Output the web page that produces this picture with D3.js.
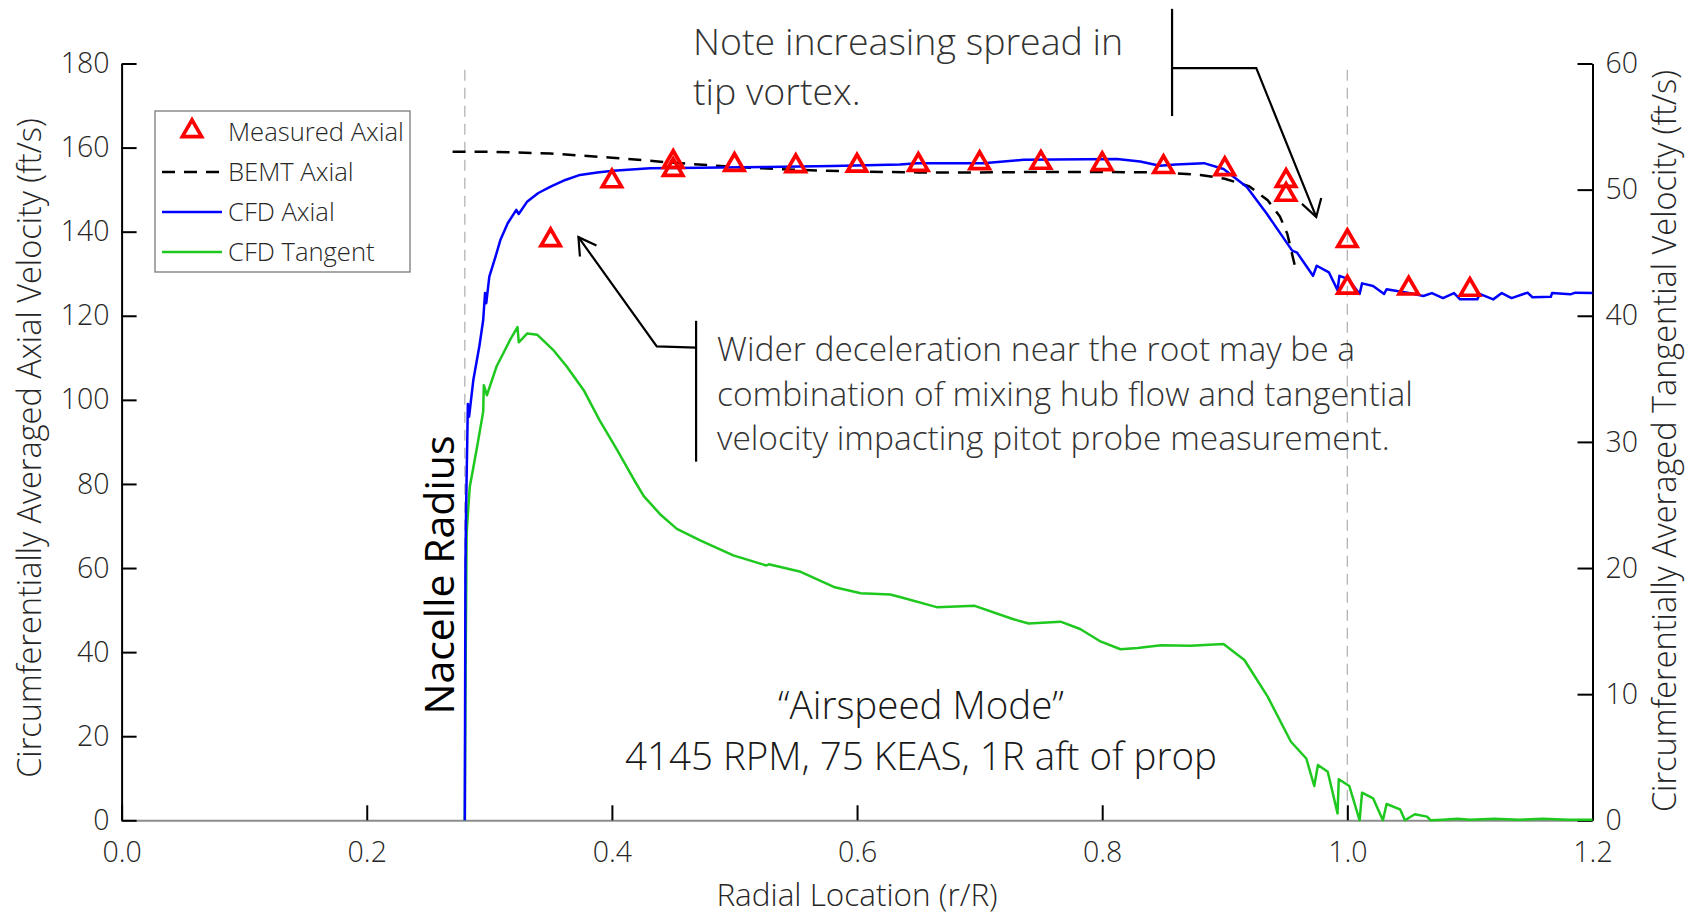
<!DOCTYPE html>
<html>
<head>
<meta charset="utf-8">
<script src="https://cdn.jsdelivr.net/npm/d3@7"></script>
<style>
  body { margin: 0; background: #fff; }
  text { font-family: "Open Sans", sans-serif; font-weight: 300; }
</style>
</head>
<body>
<div id="chart"></div>
<script>
// Measured axial velocity (pitot probe)
const measuredR = [0.35, 0.40, 0.45, 0.45, 0.50, 0.55, 0.60, 0.65, 0.70, 0.75, 0.80, 0.85, 0.90, 0.95, 0.95, 1.00, 1.00, 1.05, 1.10];
const measuredV = [138, 152, 156.6, 154.7, 155.9, 155.6, 155.7, 155.9, 156.3, 156.4, 156.1, 155.4, 154.9, 152.1, 148.8, 137.8, 126.7, 126.5, 126.2];

// BEMT axial prediction
const bemtR = [0.27, 0.30, 0.35, 0.40, 0.45, 0.50, 0.55, 0.60, 0.65, 0.70, 0.75, 0.80, 0.85, 0.88, 0.90, 0.92, 0.935, 0.945, 0.951, 0.957];
const bemtV = [159.0, 159.0, 158.6, 157.6, 156.4, 155.4, 154.7, 154.3, 154.1, 154.1, 154.2, 154.2, 154.1, 153.5, 152.6, 150.8, 147.5, 143.6, 139.5, 132.1];

// CFD axial (left axis)
const cfdAxialR = [0.28, 0.2805, 0.281, 0.2825, 0.2835, 0.287, 0.292, 0.295, 0.2965, 0.2975, 0.300, 0.305, 0.309, 0.315, 0.322, 0.324, 0.331, 0.340, 0.350, 0.362, 0.374, 0.388, 0.401, 0.431, 0.472, 0.526, 0.58, 0.635, 0.649, 0.703, 0.736, 0.812, 0.831, 0.847, 0.860, 0.883, 0.899, 0.918, 0.934, 0.955, 0.959, 0.972, 0.975, 0.985, 0.992, 0.9935, 1.001, 1.010, 1.012, 1.021, 1.030, 1.032, 1.049, 1.062, 1.069, 1.078, 1.087, 1.092, 1.106, 1.108, 1.119, 1.126, 1.134, 1.147, 1.151, 1.166, 1.167, 1.182, 1.186, 1.2];
const cfdAxialV = [0, 60, 73, 99, 96, 104.8, 113, 119, 125.4, 123, 129.3, 134, 138, 142, 145.2, 144.2, 147.2, 149.2, 150.7, 152.3, 153.5, 154.1, 154.5, 155.1, 155.2, 155.4, 155.6, 156.0, 156.3, 156.3, 157.1, 157.3, 156.7, 155.7, 156.0, 156.3, 154.9, 150.6, 144.4, 135.5, 135.0, 129.5, 131.9, 130.3, 126.1, 129.5, 128.7, 125.2, 127.7, 127.1, 125.2, 126.3, 125.5, 124.7, 125.4, 124.2, 125.4, 123.9, 123.9, 125.2, 123.9, 125.4, 124.2, 125.5, 124.4, 124.5, 125.4, 125.1, 125.5, 125.4];

// CFD tangential (right axis)
const cfdTanR = [0.28, 0.2805, 0.2815, 0.284, 0.290, 0.295, 0.2955, 0.298, 0.306, 0.317, 0.323, 0.324, 0.331, 0.339, 0.352, 0.363, 0.377, 0.390, 0.404, 0.418, 0.426, 0.440, 0.453, 0.472, 0.499, 0.526, 0.528, 0.554, 0.581, 0.603, 0.627, 0.635, 0.665, 0.696, 0.727, 0.74, 0.766, 0.782, 0.799, 0.815, 0.829, 0.848, 0.872, 0.899, 0.916, 0.935, 0.954, 0.9665, 0.973, 0.976, 0.984, 0.992, 0.993, 1.0016, 1.010, 1.012, 1.021, 1.029, 1.032, 1.043, 1.047, 1.055, 1.065, 1.068, 1.078, 1.09, 1.10, 1.12, 1.14, 1.16, 1.18, 1.2];
const cfdTanV = [0, 10, 22.8, 26.4, 29.6, 32.4, 34.5, 33.7, 36.0, 38.1, 39.1, 37.9, 38.6, 38.5, 37.3, 36.0, 34.1, 31.7, 29.4, 27.0, 25.7, 24.2, 23.1, 22.2, 21.0, 20.2, 20.3, 19.7, 18.5, 18.0, 17.9, 17.7, 16.9, 17.0, 15.96, 15.6, 15.75, 15.17, 14.16, 13.56, 13.66, 13.87, 13.84, 13.98, 12.71, 9.8, 6.23, 4.9, 2.72, 4.38, 3.85, 0.55, 3.25, 2.72, 0, 2.19, 1.74, 0, 1.29, 0.87, 0, 0.48, 0.29, 0, 0.05, 0.12, 0.05, 0.12, 0.05, 0.12, 0.05, 0.05];

// Ticks
const xTicks = [0.0, 0.2, 0.4, 0.6, 0.8, 1.0, 1.2];
const leftTicks = [0, 20, 40, 60, 80, 100, 120, 140, 160, 180];
const rightTicks = [0, 10, 20, 30, 40, 50, 60];

// Reference lines
const nacelleR = 0.28;
const tipR = 1.0;

const W = 1688, H = 914;
const margin = { top: 63.5, right: 95.5, bottom: 93.7, left: 121.6 };
const width = W - margin.left - margin.right;
const height = H - margin.top - margin.bottom;

const svg = d3.select("#chart").append("svg")
    .attr("width", W)
    .attr("height", H);

const g = svg.append("g")
    .attr("transform", `translate(${margin.left},${margin.top})`);

const x = d3.scaleLinear().domain([0, 1.2]).range([0, width]);
const yL = d3.scaleLinear().domain([0, 180]).range([height, 0]);
const yR = d3.scaleLinear().domain([0, 60]).range([height, 0]);

// Dashed reference lines
[nacelleR, tipR].forEach(r => {
    g.append("line")
        .attr("x1", x(r)).attr("x2", x(r))
        .attr("y1", yL(178.5)).attr("y2", height)
        .attr("stroke", "#b4b4b4")
        .attr("stroke-width", 1.3)
        .attr("stroke-dasharray", "11,7");
});

// Axes
const xAxis = g.append("g")
    .attr("transform", `translate(0,${height})`)
    .call(d3.axisBottom(x).tickValues(xTicks).tickFormat(d3.format(".1f"))
        .tickSizeInner(-15).tickSizeOuter(0).tickPadding(21));
xAxis.select(".domain").attr("stroke", "#8c8c8c").attr("stroke-width", 2);

const leftAxis = g.append("g")
    .call(d3.axisLeft(yL).tickValues(leftTicks)
        .tickSizeInner(-15).tickSizeOuter(0).tickPadding(12));

const rightAxis = g.append("g")
    .attr("transform", `translate(${width},0)`)
    .call(d3.axisRight(yR).tickValues(rightTicks)
        .tickSizeInner(-15).tickSizeOuter(0).tickPadding(13));

[leftAxis, rightAxis].forEach(a => a.select(".domain").attr("stroke", "#000").attr("stroke-width", 2));
[xAxis, leftAxis, rightAxis].forEach(a => {
    a.selectAll(".tick line").attr("stroke", "#000").attr("stroke-width", 2);
    a.selectAll("text")
        .style("font-size", "28.5px")
        .style("font-family", "'Open Sans', sans-serif")
        .style("font-weight", 300)
        .attr("fill", "#262626");
});

// Axis titles
g.append("text")
    .attr("transform", `translate(${28 - margin.left},${448 - margin.top}) rotate(-90)`)
    .attr("text-anchor", "middle")
    .attr("dominant-baseline", "central")
    .style("font-size", "32.5px")
    .attr("fill", "#262626")
    .text("Circumferentially Averaged Axial Velocity (ft/s)");

g.append("text")
    .attr("transform", `translate(${1663 - margin.left},${441 - margin.top}) rotate(-90)`)
    .attr("text-anchor", "middle")
    .attr("dominant-baseline", "central")
    .style("font-size", "32.5px")
    .attr("fill", "#262626")
    .text("Circumferentially Averaged Tangential Velocity (ft/s)");

g.append("text")
    .attr("x", x(0.6))
    .attr("y", 893 - margin.top)
    .attr("text-anchor", "middle")
    .attr("dominant-baseline", "central")
    .style("font-size", "31.5px")
    .attr("fill", "#262626")
    .text("Radial Location (r/R)");

// Lines
const lineL = d3.line().x(d => x(d[0])).y(d => yL(d[1]));
const lineR = d3.line().x(d => x(d[0])).y(d => yR(d[1]));

g.append("path")
    .datum(cfdTanR.map((r, i) => [r, cfdTanV[i]]))
    .attr("d", lineR)
    .attr("fill", "none")
    .attr("stroke", "#1ec81e")
    .attr("stroke-width", 2.5)
    .attr("stroke-linejoin", "round");

g.append("path")
    .datum(bemtR.map((r, i) => [r, bemtV[i]]))
    .attr("d", lineL)
    .attr("fill", "none")
    .attr("stroke", "#000")
    .attr("stroke-width", 2.5)
    .attr("stroke-dasharray", "13,9");

g.append("path")
    .datum(cfdAxialR.map((r, i) => [r, cfdAxialV[i]]))
    .attr("d", lineL)
    .attr("fill", "none")
    .attr("stroke", "#0000ff")
    .attr("stroke-width", 2.5)
    .attr("stroke-linejoin", "round");

// Measured markers
const tri = d3.symbol().type(d3.symbolTriangle).size(160);
g.selectAll(".meas")
    .data(measuredR.map((r, i) => [r, measuredV[i]]))
    .enter()
    .append("path")
    .attr("class", "meas")
    .attr("d", tri)
    .attr("transform", d => `translate(${x(d[0])},${yL(d[1])})`)
    .attr("fill", "none")
    .attr("stroke", "#ff0000")
    .attr("stroke-width", 3.7);

// Legend
const leg = svg.append("g");
leg.append("rect")
    .attr("x", 155).attr("y", 111)
    .attr("width", 255).attr("height", 161)
    .attr("fill", "#fff")
    .attr("stroke", "#7a7a7a")
    .attr("stroke-width", 1.3);
const legItems = [
    { label: "Measured Axial", type: "marker" },
    { label: "BEMT Axial", type: "line", color: "#000", dash: "13,9" },
    { label: "CFD Axial", type: "line", color: "#0000ff" },
    { label: "CFD Tangent", type: "line", color: "#1ec81e" }
];
legItems.forEach((it, i) => {
    const cy = 131 + i * 40;
    if (it.type === "marker") {
        leg.append("path").attr("d", tri)
            .attr("transform", `translate(192,${cy})`)
            .attr("fill", "none").attr("stroke", "#ff0000").attr("stroke-width", 3.7);
    } else {
        leg.append("line")
            .attr("x1", 162).attr("x2", 222).attr("y1", cy + 1).attr("y2", cy + 1)
            .attr("stroke", it.color).attr("stroke-width", 2.5)
            .attr("stroke-dasharray", it.dash || null);
    }
    leg.append("text")
        .attr("x", 228).attr("y", cy)
        .attr("dominant-baseline", "central")
        .style("font-size", "25.6px")
        .attr("fill", "#262626")
        .text(it.label);
});

// Annotations
const ann = g.append("g");
const annStroke = (sel) => sel.attr("fill", "none").attr("stroke", "#000").attr("stroke-width", 2.2);

// Nacelle Radius label
ann.append("text")
    .attr("transform", `translate(${438 - margin.left},${575 - margin.top}) rotate(-90)`)
    .attr("text-anchor", "middle")
    .attr("dominant-baseline", "central")
    .style("font-size", "41px")
    .style("font-weight", 400)
    .attr("fill", "#000")
    .text("Nacelle Radius");

// Tip vortex note
ann.append("text")
    .attr("x", 693 - margin.left).attr("y", 40 - margin.top)
    .attr("dominant-baseline", "central")
    .style("font-size", "37.5px")
    .attr("fill", "#333")
    .text("Note increasing spread in");
ann.append("text")
    .attr("x", 693 - margin.left).attr("y", 90 - margin.top)
    .attr("dominant-baseline", "central")
    .style("font-size", "37.5px")
    .attr("fill", "#333")
    .text("tip vortex.");
ann.append("path")
    .attr("d", d3.line()([[x(0.857), yL(193)], [x(0.857), yL(167.5)]]))
    .call(annStroke);
ann.append("path")
    .attr("d", d3.line()([[x(0.857), yL(178.9)], [x(0.9257), yL(178.9)], [x(0.9746), yL(143.5)]]))
    .call(annStroke);
ann.append("path")
    .attr("d", d3.line()([[x(0.9630), yL(146.6)], [x(0.9746), yL(143.5)], [x(0.9787), yL(148.0)]]))
    .call(annStroke);

// Root deceleration note
const rootLines = [
    "Wider deceleration near the root may be a",
    "combination of mixing hub flow and tangential",
    "velocity impacting pitot probe measurement."
];
rootLines.forEach((t, i) => {
    ann.append("text")
        .attr("x", 717 - margin.left).attr("y", 348 + i * 44.5 - margin.top)
        .attr("dominant-baseline", "central")
        .style("font-size", "33.5px")
        .attr("fill", "#333")
        .text(t);
});
ann.append("path")
    .attr("d", d3.line()([[x(0.4687), yL(118.8)], [x(0.4687), yL(85.3)]]))
    .call(annStroke);
ann.append("path")
    .attr("d", d3.line()([[x(0.4687), yL(112.4)], [x(0.4366), yL(112.7)], [x(0.3727), yL(138.7)]]))
    .call(annStroke);
ann.append("path")
    .attr("d", d3.line()([[x(0.3874), yL(136.7)], [x(0.3727), yL(138.7)], [x(0.3739), yL(134.1)]]))
    .call(annStroke);

// Operating condition
ann.append("text")
    .attr("x", 921 - margin.left).attr("y", 704 - margin.top)
    .attr("text-anchor", "middle")
    .attr("dominant-baseline", "central")
    .style("font-size", "38.5px")
    .attr("fill", "#1a1a1a")
    .text("\u201CAirspeed Mode\u201D");
ann.append("text")
    .attr("x", 921 - margin.left).attr("y", 755 - margin.top)
    .attr("text-anchor", "middle")
    .attr("dominant-baseline", "central")
    .style("font-size", "38.5px")
    .attr("fill", "#1a1a1a")
    .text("4145 RPM, 75 KEAS, 1R aft of prop");
</script>
</body>
</html>
